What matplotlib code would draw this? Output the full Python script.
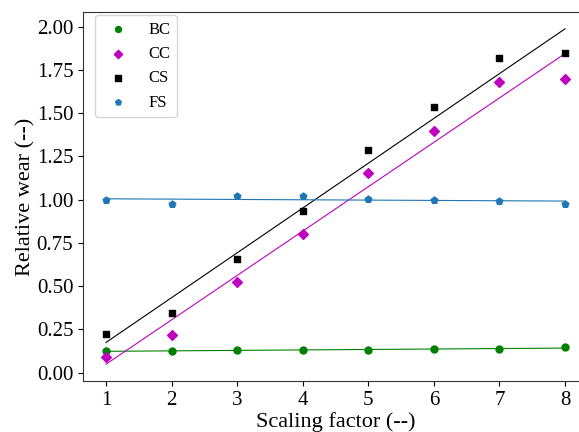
import matplotlib
matplotlib.use("Agg")
import matplotlib.pyplot as plt
import numpy as np

plt.rcParams["font.family"] = ["Liberation Serif", "DejaVu Serif"]

# Data
scale = np.array([1, 2, 3, 4, 5, 6, 7, 8])
bc = [0.123, 0.127, 0.131, 0.129, 0.128, 0.134, 0.138, 0.146]
cc = [0.092, 0.218, 0.522, 0.800, 1.156, 1.399, 1.682, 1.699]
cs = [0.220, 0.347, 0.655, 0.932, 1.287, 1.534, 1.819, 1.850]
fs = [1.000, 0.973, 1.021, 1.019, 1.006, 0.998, 0.990, 0.977]

series = [
    ("BC", bc, "g", "o"),
    ("CC", cc, "m", "D"),
    ("CS", cs, "k", "s"),
    ("FS", fs, "tab:blue", "p"),
]

fig = plt.figure(figsize=(5.79, 4.32), dpi=100)
ax = fig.add_axes([0.1434, 0.118, 0.872, 0.854])

for name, vals, col, mk in series:
    ax.scatter(scale, vals, color=col, marker=mk, s=25, label=name, zorder=3)
    # linear fit through each series
    p = np.polyfit(scale, vals, 1)
    ax.plot(scale, np.polyval(p, scale), color=col, lw=0.8, zorder=2)

ax.set_xlabel("Scaling factor (--)", fontsize=16, labelpad=2)
ax.set_ylabel("Relative wear (--)", fontsize=16, labelpad=1)
ax.tick_params(labelsize=15)
ax.set_yticks(np.arange(0, 2.01, 0.25))
ax.yaxis.set_major_formatter(matplotlib.ticker.FormatStrFormatter("%.2f"))
for sp in ax.spines.values():
    sp.set_color("#333333")

ax.legend(loc="upper left", bbox_to_anchor=(0.024, 0.992), borderaxespad=0,
          fontsize=12, markerscale=0.85)

plt.savefig("out.png", dpi=100)
